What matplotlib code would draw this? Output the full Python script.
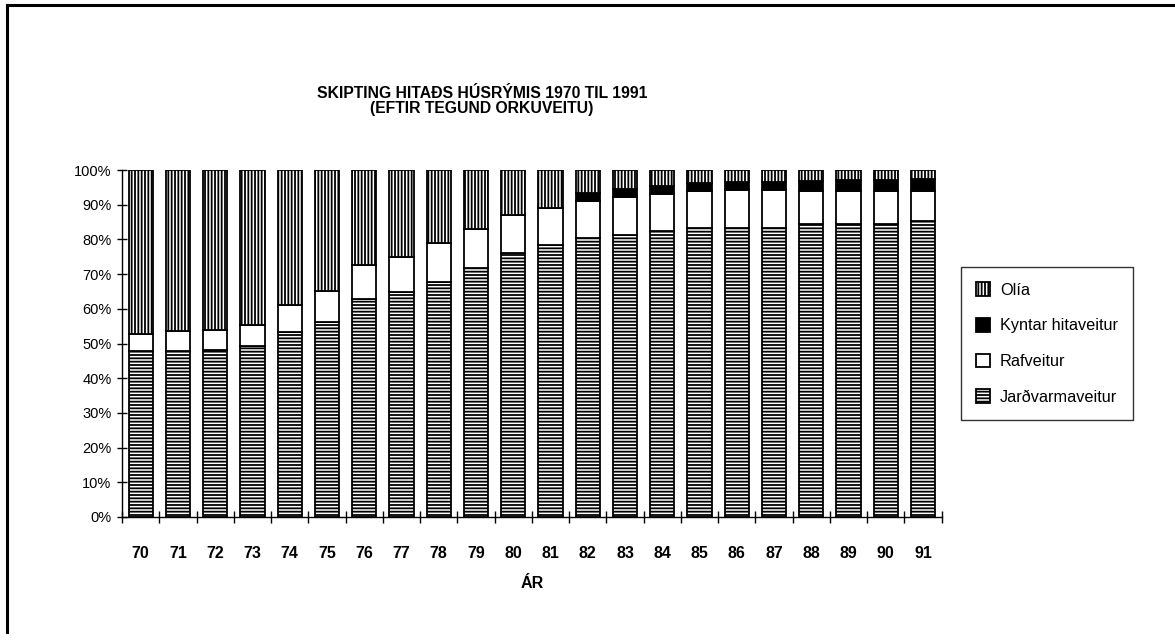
import matplotlib
matplotlib.use("Agg")
import matplotlib.pyplot as plt
from matplotlib.lines import Line2D
import numpy as np

plt.rcParams['font.family'] = ['Liberation Sans', 'DejaVu Sans']
plt.rcParams['hatch.linewidth'] = 1.3
plt.rcParams['hatch.color'] = 'black'

years = ['70', '71', '72', '73', '74', '75', '76', '77', '78', '79', '80',
         '81', '82', '83', '84', '85', '86', '87', '88', '89', '90', '91']
jardvarma = [47.7, 47.9, 48.0, 49.2, 53.3, 56.2, 62.8, 64.8, 67.8, 71.8, 76.0,
             78.3, 80.3, 81.4, 82.3, 83.4, 83.4, 83.4, 84.3, 84.4, 84.4, 85.3]
rafveitur = [5.0, 5.8, 6.0, 6.1, 7.9, 9.0, 9.9, 10.1, 11.1, 11.1, 10.9,
             10.8, 10.8, 10.7, 10.7, 10.6, 10.7, 10.7, 9.7, 9.6, 9.6, 8.7]
kyntar = [0, 0, 0, 0, 0, 0, 0, 0, 0, 0, 0,
          0, 2.4, 2.4, 2.3, 2.3, 2.3, 2.3, 2.9, 3.0, 3.0, 3.4]
olia = [47.3, 46.3, 46.0, 44.7, 38.8, 34.8, 27.3, 25.1, 21.1, 17.1, 13.1,
        10.9, 6.5, 5.5, 4.7, 3.7, 3.6, 3.6, 3.1, 3.0, 3.0, 2.6]

title1 = 'SKIPTING HITAÐS HÚSRÝMIS 1970 TIL 1991'
title2 = '(EFTIR TEGUND ORKUVEITU)'
xlabel = 'ÁR'

W, H = 1175, 640
fig = plt.figure(figsize=(W / 100, H / 100), dpi=100)
ax = fig.add_axes([122 / W, 1 - 517 / H, (941.7 - 122) / W, (517 - 170) / H])

x = np.arange(len(years))
bw = 0.65
j = np.array(jardvarma)
r = np.array(rafveitur)
k = np.array(kyntar)
o = np.array(olia)

b_j = ax.bar(x, j, bw, facecolor='white', edgecolor='black', hatch='-----', linewidth=1.3)
b_r = ax.bar(x, r, bw, bottom=j, facecolor='white', edgecolor='black', linewidth=1.3)
b_k = ax.bar(x, k, bw, bottom=j + r, facecolor='black', edgecolor='black', linewidth=1.3)
b_o = ax.bar(x, o, bw, bottom=j + r + k, facecolor='white', edgecolor='black', hatch='|||||', linewidth=1.3)

ax.set_xlim(-0.5, len(years) - 0.5)
ax.set_ylim(0, 100)
ax.spines['top'].set_visible(False)
ax.spines['right'].set_visible(False)
for s in ('left', 'bottom'):
    ax.spines[s].set_linewidth(1.0)

ax.set_yticks(np.arange(0, 101, 10))
ax.set_yticklabels([f'{v}%' for v in range(0, 101, 10)], fontsize=10.5)
ax.tick_params(axis='y', direction='inout', length=7, width=1.0, pad=4)

ax.set_xticks(x)
ax.set_xticklabels(years, fontsize=11.5, fontweight='bold')
ax.set_xticks(np.arange(-0.5, len(years), 1), minor=True)
ax.tick_params(axis='x', which='major', length=0, pad=21)
ax.tick_params(axis='x', which='minor', direction='inout', length=8, width=1.0)
ax.set_xlabel(xlabel, fontsize=11.5, fontweight='bold', labelpad=11)

fig.text(482 / W, 1 - 97.5 / H, title1, ha='center', va='baseline', fontsize=11.3, fontweight='bold')
fig.text(482 / W, 1 - 113.5 / H, title2, ha='center', va='baseline', fontsize=11.3, fontweight='bold')

leg = fig.legend([b_o[0], b_k[0], b_r[0], b_j[0]],
                 ['Olía', 'Kyntar hitaveitur', 'Rafveitur', 'Jarðvarmaveitur'],
                 loc='upper left', bbox_to_anchor=(961 / W, 1 - 267 / H),
                 fontsize=11.7, frameon=True, fancybox=False, borderpad=0.95,
                 labelspacing=1.25, handlelength=0.85, handleheight=0.9,
                 handletextpad=0.6, borderaxespad=0)
leg.get_frame().set_edgecolor('black')
leg.get_frame().set_linewidth(1.0)

fig.add_artist(Line2D([7 / W, 1], [1 - 5 / H, 1 - 5 / H], transform=fig.transFigure,
                      color='black', linewidth=2.2))
fig.add_artist(Line2D([7 / W, 7 / W], [1 - 5 / H, 1 - 632 / H], transform=fig.transFigure,
                      color='black', linewidth=2.2))

fig.savefig('out.png', dpi=100, facecolor='white')
